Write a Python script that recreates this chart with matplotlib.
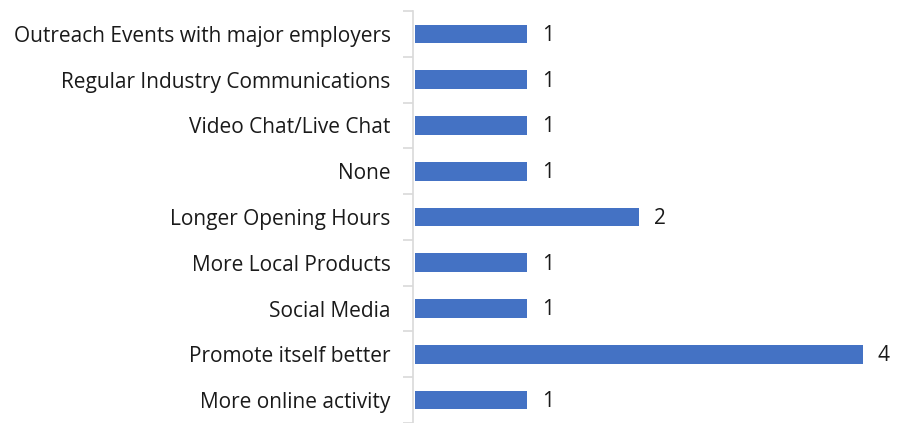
import matplotlib.pyplot as plt
import numpy as np

categories = ["Outreach Events with major employers",
              "Regular Industry Communications",
              "Video Chat/Live Chat",
              "None",
              "Longer Opening Hours",
              "More Local Products",
              "Social Media",
              "Promote itself better",
              "More online activity"]
counts = [1, 1, 1, 1, 2, 1, 1, 4, 1]

plt.rcParams['font.family'] = ['Open Sans', 'DejaVu Sans']

fig = plt.figure(figsize=(9, 4.23), dpi=100)
ax = fig.add_axes([413 / 900, 0.0, 467 / 900, 1 - 11 / 423])

y = np.arange(len(categories))
ax.barh(y, counts, height=0.41, left=0.02, color="#4472c4")
ax.set_ylim(len(categories) - 0.5, -0.5)
ax.set_xlim(0, 467 / 112)

for yi, v in zip(y, counts):
    ax.text(0.02 + v + 0.13, yi + 0.03, str(v), va="center", ha="left", fontsize=15, color="#1a1a1a")

ax.set_yticks(y)
ax.set_yticklabels(categories, fontsize=15, color="#1a1a1a")
ax.set_yticks(np.arange(-0.5, len(categories), 1), minor=True)
ax.tick_params(axis="y", which="major", length=0, pad=16)
ax.tick_params(axis="y", which="minor", length=7, color="#d9d9d9", width=1.2)
ax.set_xticks([])

for s in ["top", "right", "bottom"]:
    ax.spines[s].set_visible(False)
ax.spines["left"].set_color("#d9d9d9")
ax.spines["left"].set_linewidth(1.2)

fig.savefig("out.png", dpi=100)
